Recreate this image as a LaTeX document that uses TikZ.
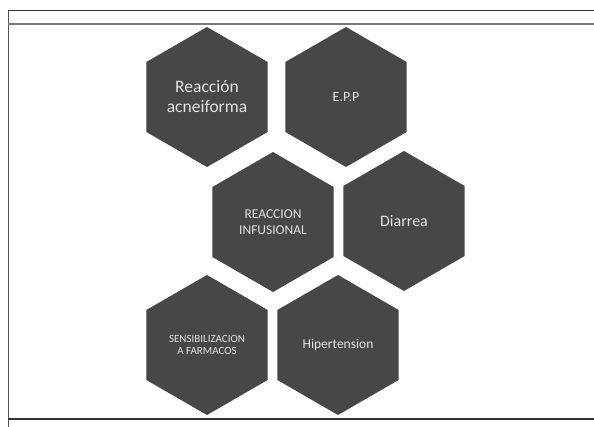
\documentclass[tikz,border=0pt]{standalone}
\usepackage{fontspec}
\setmainfont{Carlito}
\usetikzlibrary{shapes.geometric}
\definecolor{hexfill}{HTML}{474747}
\definecolor{hextext}{HTML}{E4E4E4}
\definecolor{frameA}{HTML}{333333}
\definecolor{frameB}{HTML}{7A7A7A}
\definecolor{frameC}{HTML}{555555}
\tikzset{
  hexbox/.style={regular polygon, regular polygon sides=6, shape border rotate=90,
    minimum size=140pt, inner sep=0pt, outer sep=0pt, fill=hexfill, draw=none,
    text=hextext, align=center},
  frameline/.style={line width=1.1pt}
}
\begin{document}
\begin{tikzpicture}[x=1pt,y=-1pt]
\useasboundingbox (0,0) rectangle (594,427);
\fill[white] (0,0) rectangle (594,427);
% frame
\coordinate (tl) at (8.3,10.3);
\coordinate (tr) at (594,10.3);
\coordinate (ml) at (8.3,24);
\coordinate (mr) at (594,24);
\coordinate (bl) at (8.3,419);
\coordinate (br) at (594,419);
\coordinate (ll) at (8.3,427);
\draw[frameline, frameC] (tl) -- (ll);
\draw[frameline, frameA] (tl) -- (tr);
\draw[line width=1.4pt, frameB] (ml) -- (mr);
\draw[frameline, frameA] (bl) -- (br);
% hexagons
\node[hexbox, font=\fontsize{17.5}{20}\selectfont] (h1) at (207,97) {Reacción\\acneiforma};
\node[hexbox, font=\fontsize{14}{16}\selectfont] (h2) at (346,97) {E.P.P};
\node[hexbox, font=\fontsize{13.5}{16}\selectfont] (h3) at (273,222) {REACCION\\INFUSIONAL};
\node[hexbox, font=\fontsize{16}{19}\selectfont] (h4) at (404,221) {Diarrea};
\node[hexbox, font=\fontsize{11}{12.5}\selectfont] (h5) at (207,345) {SENSIBILIZACION\\A FARMACOS};
\node[hexbox, font=\fontsize{13.5}{16}\selectfont] (h6) at (338,345) {Hipertension};
\end{tikzpicture}
\end{document}
